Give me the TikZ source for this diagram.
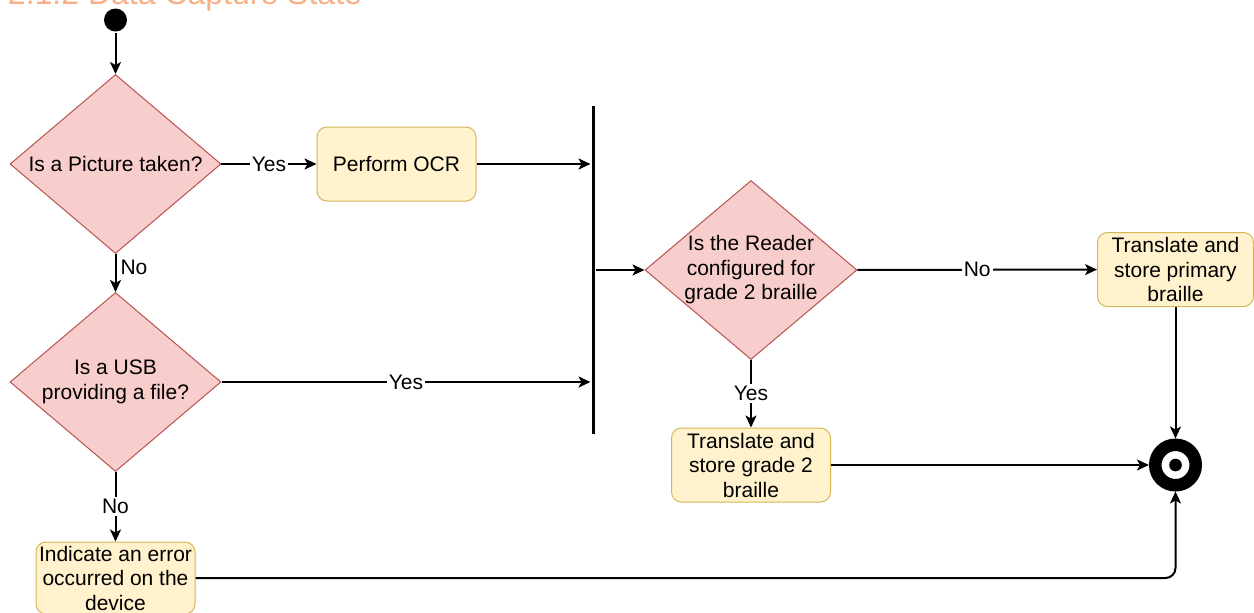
\documentclass[tikz,border=0pt]{standalone}
\usepackage{fontspec}
\setmainfont{Liberation Sans}
\usetikzlibrary{shapes.geometric,arrows.meta}
\definecolor{decfill}{HTML}{F8CECC}
\definecolor{decline}{HTML}{B85450}
\definecolor{actfill}{HTML}{FFF2CC}
\definecolor{actline}{HTML}{D6B656}
\definecolor{headorange}{RGB}{247,176,134}
\begin{document}
\begin{tikzpicture}[x=0.5pt,y=-0.5pt,line width=1pt,>={Stealth[length=6pt,width=5.5pt,inset=1.5pt]},
		font=\fontsize{10.5}{12.25}\selectfont,
		decision/.style={diamond,draw=decline,fill=decfill,line width=0.5pt,aspect=1.19,inner sep=-2pt,
			minimum width=105.5pt,minimum height=89.5pt,align=center},
		action/.style={rectangle,rounded corners=5pt,draw=actline,fill=actfill,line width=0.5pt,inner sep=1pt,
			minimum width=79.5pt,minimum height=37pt,align=center},
		lbl/.style={fill=white,inner sep=1pt}]
		\useasboundingbox (0,0) rectangle (1254,612);
		\node[anchor=base west,inner sep=0pt,text=headorange,font=\fontsize{16}{19}\selectfont] (head) at (7,4) {2.1.2 Data Capture State};
		\node[circle,fill,inner sep=0pt,minimum size=11.5pt] (init) at (115.5,20) {};
		\node[decision] (pic) at (115.5,164) {Is a Picture taken?};
		\node[decision] (usb) at (115.5,382) {Is a USB\\providing a file?};
		\node[action,minimum height=36pt] (err) at (115.5,578) {Indicate an error\\occurred on the\\device};
		\node[action] (ocr) at (396.5,164) {Perform OCR};
		\node[fill=black,inner sep=0pt,minimum width=1.5pt,minimum height=164pt] (bar) at (593,270) {};
		\node[decision,minimum width=106pt] (read) at (751,270) {Is the Reader\\configured for\\grade 2 braille};
		\node[action] (grade) at (751,465) {Translate and\\store grade 2\\braille};
		\node[action,minimum width=78pt] (prim) at (1175.5,269.5) {Translate and\\store primary\\braille};
		\node[circle,draw,line width=6.25pt,inner sep=0pt,minimum size=20.25pt] (final) at (1175.5,465) {};
		\fill (final.center) circle[radius=3.15pt];
		\draw[->] (init) -- (pic);
		\draw[->] (pic) -- node[lbl]{Yes} (ocr);
		\draw[->] (pic) -- node[pos=0.35,right,inner sep=2pt]{No} (usb);
		\draw[->] (usb) -- node[lbl]{Yes} (usb -| bar.west);
		\draw[->] (usb) -- node[lbl]{No} (err);
		\draw[->] (ocr) -- (ocr -| bar.west);
		\draw[->] (bar.east |- read) -- (read);
		\draw[->] (read) -- node[lbl]{No} (prim);
		\draw[->] (read) -- node[lbl]{Yes} (grade);
		\draw[->] (grade) -- (final);
		\draw[->] (prim) -- (final);
		\draw[->,rounded corners=5pt] (err) -- (err -| final) -- (final);
	\end{tikzpicture}
\end{document}
